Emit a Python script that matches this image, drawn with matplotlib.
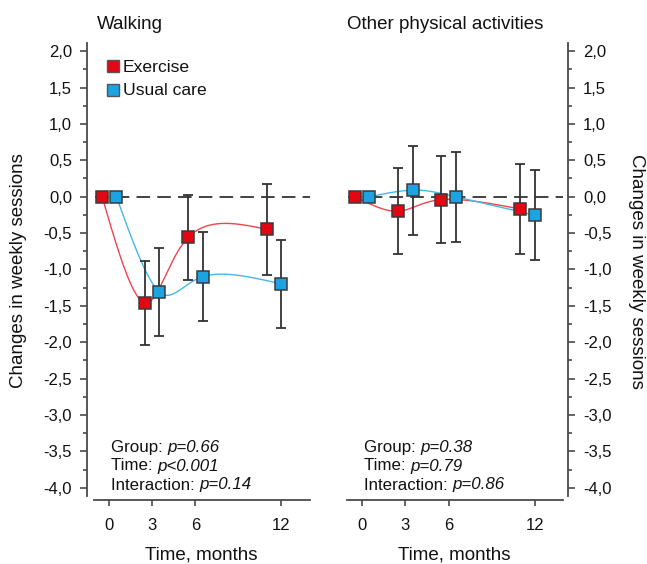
import numpy as np
import matplotlib
matplotlib.use("Agg")
import matplotlib.pyplot as plt
from matplotlib.ticker import FixedLocator, FuncFormatter, MultipleLocator

plt.rcParams['font.family'] = ['Liberation Sans', 'DejaVu Sans']

# ---------------- data ----------------
months = [0, 3, 6, 12]
month_labels = ["0", "3", "6", "12"]
groups = ["Exercise", "Usual care"]

walk_ex = [0.0, -1.46, -0.56, -0.45]
walk_ex_err = [0.0, 0.58, 0.59, 0.62]
walk_uc = [0.0, -1.31, -1.10, -1.20]
walk_uc_err = [0.0, 0.60, 0.61, 0.61]

oth_ex = [0.0, -0.20, -0.04, -0.17]
oth_ex_err = [0.0, 0.59, 0.60, 0.62]
oth_uc = [0.0, 0.09, 0.0, -0.255]
oth_uc_err = [0.0, 0.61, 0.62, 0.62]

walk_stats = [("Group: ", "p=0.66"), ("Time: ", "p<0.001"), ("Interaction: ", "p=0.14")]
oth_stats = [("Group: ", "p=0.38"), ("Time: ", "p=0.79"), ("Interaction: ", "p=0.86")]

# ---------------- style ----------------
ex_shift = [-0.5, -0.5, -0.5, -1.0]
uc_shift = [0.5, 0.5, 0.5, 0.0]
RED = '#E30613'
RED_LINE = '#EE4450'
BLUE = '#1BA3E2'
BLUE_LINE = '#45B8EA'
EDGE = '#3a3a3a'
AXC = '#4a4a4a'
MS = 8.2

W, H = 647, 564
fig = plt.figure(figsize=(W / 100, H / 100), dpi=100)


def fx(px):
    return px / W


def fy(py):
    return 1 - py / H


YMIN, YMAX = -4.16, 2.11
XMIN, XMAX = -1.53, 14.3
ax_b = fy(499.5)
ax_h = (499.5 - 43.1) / H
axL = fig.add_axes([fx(87.3), ax_b, (314.5 - 87.3) / W, ax_h])
axR = fig.add_axes([fx(340.3), ax_b, (567.8 - 340.3) / W, ax_h])


def natural_spline(x, y, xs):
    x = np.asarray(x, float)
    y = np.asarray(y, float)
    k = len(x)
    h = np.diff(x)
    A = np.zeros((k, k))
    b = np.zeros(k)
    A[0, 0] = 1
    A[-1, -1] = 1
    for i in range(1, k - 1):
        A[i, i - 1] = h[i - 1]
        A[i, i] = 2 * (h[i - 1] + h[i])
        A[i, i + 1] = h[i]
        b[i] = 6 * ((y[i + 1] - y[i]) / h[i] - (y[i] - y[i - 1]) / h[i - 1])
    M = np.linalg.solve(A, b)
    idx = np.clip(np.searchsorted(x, xs) - 1, 0, k - 2)
    x0, x1 = x[idx], x[idx + 1]
    hh = x1 - x0
    t0 = x1 - xs
    t1 = xs - x0
    return (M[idx] * t0 ** 3 / (6 * hh) + M[idx + 1] * t1 ** 3 / (6 * hh)
            + (y[idx] / hh - M[idx] * hh / 6) * t0 + (y[idx + 1] / hh - M[idx + 1] * hh / 6) * t1)


def smooth_curve(x, y, n=400):
    t = np.arange(len(x), dtype=float)
    ts = np.linspace(0, t[-1], n)
    return natural_spline(t, x, ts), natural_spline(t, y, ts)


def fmt(v, pos):
    s = f"{v:.1f}"
    if s == "-0.0":
        s = "0.0"
    return s.replace('.', ',')


def draw_panel(ax, ex, ex_err, uc, uc_err, side):
    ax.set_xlim(XMIN, XMAX)
    ax.set_ylim(YMIN, YMAX)
    ax.axhline(0, xmin=(-1.0 - XMIN) / (XMAX - XMIN), xmax=(14.0 - XMIN) / (XMAX - XMIN),
               color='#333333', lw=1.3, dashes=(7.5, 4), zorder=1)
    for vals, errs, shift, col, lcol in [(ex, ex_err, ex_shift, RED, RED_LINE),
                                         (uc, uc_err, uc_shift, BLUE, BLUE_LINE)]:
        xs = np.array(months, float) + np.array(shift)
        sx, sy = smooth_curve(xs, vals)
        ax.plot(sx, sy, color=lcol, lw=1.0, zorder=2)
        ax.errorbar(xs[1:], np.array(vals)[1:], yerr=np.array(errs)[1:], fmt='none',
                    ecolor='#333333', elinewidth=1.3, capsize=3.8, capthick=1.3, zorder=3)
        ax.plot(xs, vals, 's', ms=MS, mfc=col, mec=EDGE, mew=1.1, zorder=4, clip_on=False)

    for s in ['top', 'left', 'right', 'bottom']:
        ax.spines[s].set_visible(False)
    ax.spines['bottom'].set_visible(True)
    ax.spines['bottom'].set_bounds(-1.05, 14.0)
    ax.spines['bottom'].set_color(AXC)
    ax.spines['bottom'].set_linewidth(1.3)
    ax.spines[side].set_visible(True)
    ax.spines[side].set_bounds(-4.11, YMAX)
    ax.spines[side].set_color(AXC)
    ax.spines[side].set_linewidth(1.3)

    ax.xaxis.set_major_locator(FixedLocator(months))
    ax.set_xticklabels(month_labels)
    ax.tick_params(axis='x', direction='out', length=4, width=1.2, color=AXC,
                   labelsize=12, pad=9, labelcolor='#111111')
    ax.yaxis.set_major_locator(MultipleLocator(0.5))
    ax.yaxis.set_minor_locator(MultipleLocator(0.25))
    ax.yaxis.set_major_formatter(FuncFormatter(fmt))
    if side == 'left':
        ax.yaxis.tick_left()
    else:
        ax.yaxis.tick_right()
    ax.tick_params(axis='y', which='major', direction='out', length=5, width=1.2, color=AXC,
                   labelsize=12, pad=6, labelcolor='#111111')
    ax.tick_params(axis='y', which='minor', direction='out', length=3, width=1.2, color=AXC)
    ax.set_ylim(YMIN, YMAX)
    ax.patch.set_visible(False)


draw_panel(axL, walk_ex, walk_ex_err, walk_uc, walk_uc_err, 'left')
draw_panel(axR, oth_ex, oth_ex_err, oth_uc, oth_uc_err, 'right')

# stats annotations
for x0, stats in [(111, walk_stats), (364.3, oth_stats)]:
    for i, (plain, ital) in enumerate(stats):
        yb = [451.7, 470.5, 489.5][i]
        t = fig.text(fx(x0), fy(yb), plain, fontsize=12.2, va='baseline', ha='left', color='#111111')
        plt.annotate(ital, xy=(1, 0), xycoords=t, xytext=(0, 0), textcoords='offset points',
                     fontsize=12.2, style='italic', va='bottom', ha='left', color='#111111',
                     annotation_clip=False)

# titles
fig.text(fx(97), fy(28.7), "Walking", fontsize=13.5, va='baseline', ha='left', color='#111111')
fig.text(fx(346.7), fy(28.7), "Other physical activities", fontsize=13.5, va='baseline',
         ha='left', color='#111111')

# x labels
fig.text(fx(200.9), fy(555), "Time, months", fontsize=13.5, ha='center', va='center', color='#111111')
fig.text(fx(454), fy(555), "Time, months", fontsize=13.5, ha='center', va='center', color='#111111')

# y labels
fig.text(fx(18.5), fy(271), "Changes in weekly sessions", fontsize=13.5, rotation=90,
         ha='center', va='center', color='#111111')
fig.text(fx(636), fy(271), "Changes in weekly sessions", fontsize=13.5, rotation=270,
         ha='center', va='center', color='#111111')

# legend
for i, (g, col) in enumerate(zip(groups, [RED, BLUE])):
    yc = [66.2, 89.5][i]
    fig.lines.append(plt.Line2D([fx(112.8)], [fy(yc)], marker='s', ms=MS, mfc=col, mec='#555555',
                                mew=1.0, transform=fig.transFigure, figure=fig))
    fig.text(fx(123), fy(yc + 1), g, fontsize=12.6, va='center', ha='left', color='#111111')

fig.savefig("out.png", dpi=100)
